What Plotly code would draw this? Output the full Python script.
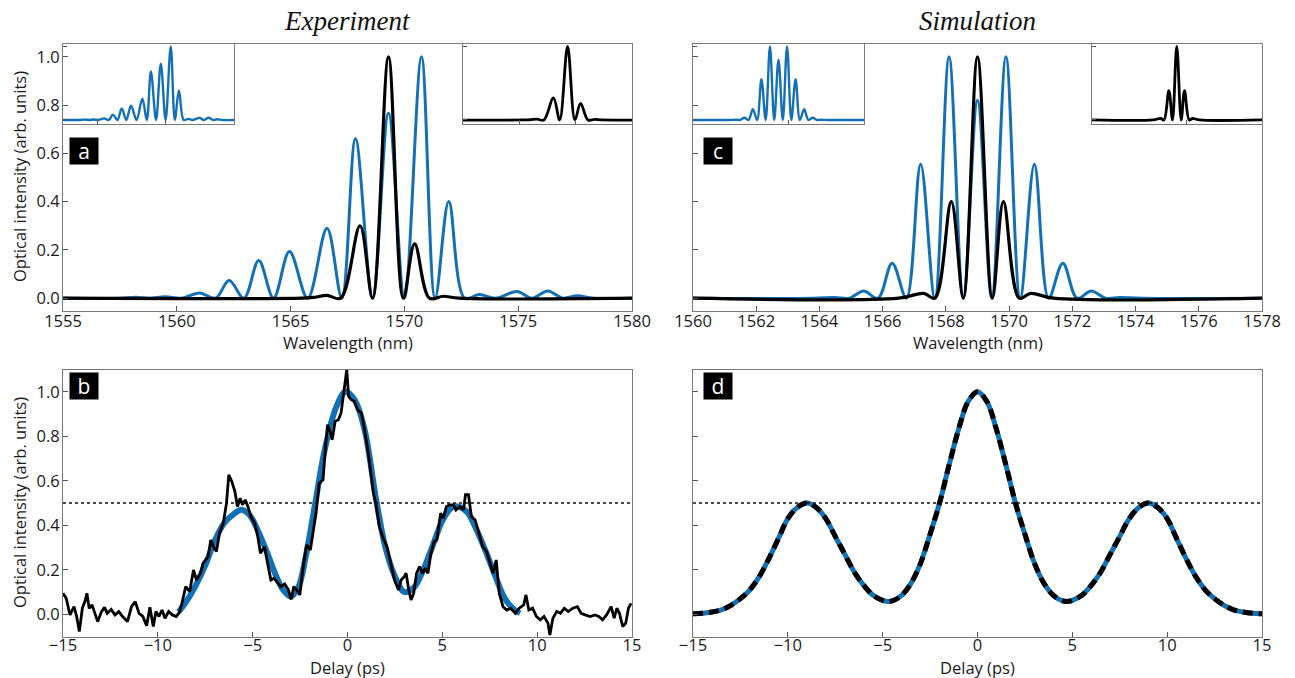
import plotly.graph_objects as go

# ---------------- data ----------------
# Panel a (experiment spectra)
a_blue_wl = [1555.0, 1557.5, 1558.2, 1558.8, 1559.5, 1560.2, 1561.0, 1561.7, 1562.3, 1562.95,
             1563.6, 1564.25, 1564.95, 1565.75, 1566.6, 1567.25, 1567.85, 1568.6, 1569.3, 1570.0,
             1570.75, 1571.35, 1571.95, 1572.65, 1573.3, 1574.0, 1574.95, 1575.6, 1576.3, 1576.95,
             1577.6, 1578.3, 1580.0]
a_blue_int = [0.0, 0.0, 0.004, 0.0, 0.006, 0.0, 0.022, 0.0, 0.073, 0.0,
              0.156, 0.0, 0.193, 0.0, 0.29, 0.0, 0.66, 0.0, 0.766, 0.0,
              1.0, 0.0, 0.40, 0.0, 0.015, 0.0, 0.028, 0.0, 0.03, 0.0,
              0.01, 0.0, 0.0]
a_black_wl = [1555.0, 1565.5, 1566.0, 1566.6, 1567.2, 1568.05, 1568.6, 1569.3, 1569.95, 1570.45,
              1571.1, 1571.7, 1572.4, 1580.0]
a_black_int = [0.0, 0.0, 0.003, 0.012, 0.0, 0.30, 0.0, 1.0, 0.0, 0.225,
               0.0, 0.008, 0.0, 0.0]

# Panel c (simulated spectra)
c_blue_wl = [1560.0, 1563.8, 1564.5, 1564.95, 1565.4, 1565.85, 1566.3, 1566.75, 1567.2, 1567.65,
             1568.1, 1568.55, 1569.0, 1569.45, 1569.9, 1570.35, 1570.8, 1571.25, 1571.7, 1572.15,
             1572.6, 1573.05, 1573.5, 1574.2, 1578.0]
c_blue_int = [0.0, 0.0, 0.003, 0.0, 0.03, 0.0, 0.145, 0.0, 0.555, 0.0,
              1.0, 0.0, 0.82, 0.0, 1.0, 0.0, 0.555, 0.0, 0.145, 0.0,
              0.03, 0.0, 0.003, 0.0, 0.0]
c_black_wl = [1560.0, 1566.5, 1567.3, 1567.65, 1568.17, 1568.55, 1569.0, 1569.47, 1569.82, 1570.32,
              1570.68, 1571.4, 1578.0]
c_black_int = [0.0, 0.0, 0.02, 0.0, 0.40, 0.0, 1.0, 0.0, 0.40, 0.0,
               0.02, 0.0, 0.0]

# Panel b (experiment autocorrelation-like trace, measured + fit)
b_meas_delay = [-15.0, -14.83, -14.63, -14.42, -14.28, -14.14, -13.98, -13.82, -13.74, -13.62,
                -13.47, -13.33, -13.17, -12.97, -12.81, -12.67, -12.46, -12.26, -12.06, -11.86,
                -11.60, -11.39, -11.19, -10.99, -10.79, -10.59, -10.42, -10.24, -10.10, -9.94,
                -9.78, -9.62, -9.43, -9.23, -9.03, -8.87,
                -8.73, -8.53, -8.32, -8.12, -7.96, -7.76, -7.62, -7.35, -7.21, -7.07,
                -6.91, -6.75, -6.55, -6.38, -6.26, -6.10, -5.94, -5.80, -5.66, -5.54,
                -5.39, -5.25, -5.09, -4.89, -4.73, -4.59, -4.38, -4.18, -4.04, -3.88,
                -3.72, -3.52, -3.31, -3.11, -2.97, -2.83, -2.67, -2.51, -2.36, -2.16,
                -1.96, -1.82, -1.66, -1.49, -1.29, -1.15, -1.05, -0.89, -0.81, -0.65,
                -0.48, -0.34, -0.14, -0.04, 0.06, 0.20, 0.36, 0.53, 0.73, 0.87,
                1.07, 1.21, 1.37, 1.49, 1.68, 1.88, 2.08, 2.28, 2.48, 2.69,
                2.83, 2.99, 3.09, 3.23, 3.35, 3.49, 3.64, 3.80, 3.96, 4.10,
                4.24, 4.40, 4.57, 4.71, 4.91, 5.05, 5.21, 5.37, 5.58, 5.72,
                5.92, 6.12, 6.22, 6.38, 6.53, 6.73, 6.93, 7.13, 7.33, 7.54,
                7.68, 7.84, 8.00, 8.20, 8.40, 8.61, 8.85, 9.05, 9.29, 9.41,
                9.56, 9.76, 9.96, 10.16, 10.36, 10.57, 10.67, 10.83, 11.03, 11.23,
                11.43, 11.64, 11.88, 12.12, 12.32, 12.53, 12.79, 13.05, 13.25, 13.45,
                13.66, 13.90, 14.06, 14.20, 14.34, 14.51, 14.67, 14.81, 14.95]
b_meas_int = [0.094, 0.072, -0.003, 0.034, -0.010, -0.078, 0.027, 0.064, 0.094, 0.027,
              0.042, 0.004, -0.033, 0.012, 0.031, 0.004, 0.022, -0.003, 0.012, -0.010,
              -0.033, 0.034, 0.057, 0.004, -0.010, -0.052, 0.031, -0.055, 0.012, -0.010,
              0.019, -0.018, 0.012, -0.003, -0.010, 0.007,
              0.049, 0.124, 0.102, 0.199, 0.154, 0.184, 0.229, 0.259, 0.334, 0.304,
              0.282, 0.364, 0.409, 0.499, 0.627, 0.597, 0.552, 0.484, 0.522, 0.492,
              0.514, 0.484, 0.439, 0.409, 0.349, 0.274, 0.304, 0.214, 0.154, 0.162,
              0.147, 0.124, 0.136, 0.109, 0.067, 0.124, 0.109, 0.087, 0.199, 0.312,
              0.289, 0.364, 0.454, 0.589, 0.604, 0.762, 0.852, 0.814, 0.784, 0.867,
              0.874, 0.904, 1.039, 1.099, 0.979, 0.964, 0.957, 0.919, 0.904, 0.844,
              0.739, 0.649, 0.544, 0.499, 0.394, 0.342, 0.304, 0.229, 0.154, 0.109,
              0.154, 0.169, 0.184, 0.109, 0.064, 0.094, 0.184, 0.214, 0.184, 0.207,
              0.184, 0.274, 0.327, 0.334, 0.454, 0.432, 0.484, 0.492, 0.492, 0.469,
              0.484, 0.469, 0.537, 0.537, 0.439, 0.424, 0.364, 0.304, 0.282, 0.229,
              0.184, 0.244, 0.094, 0.034, 0.019, 0.027, 0.004, 0.027, 0.042, 0.087,
              0.019, 0.027, -0.010, -0.025, -0.010, -0.040, -0.093, -0.018, 0.012, 0.004,
              0.027, 0.012, 0.027, 0.034, 0.004, -0.003, -0.010, -0.003, -0.010, -0.025,
              -0.003, 0.034, -0.018, 0.027, 0.004, -0.055, -0.040, 0.027, 0.049]
b_fit_delay = [-8.9, -8.4, -8.0, -7.5, -7.0, -6.5, -6.0, -5.6, -5.2, -4.8,
               -4.3, -3.8, -3.4, -3.0, -2.6, -2.2, -1.7, -1.2, -0.6, -0.1,
               0.4, 0.9, 1.5, 2.0, 2.5, 3.0, 3.5, 4.0, 4.5, 5.0,
               5.5, 5.8, 6.3, 6.8, 7.3, 7.8, 8.3, 8.8, 9.1]
b_fit_int = [0.01, 0.07, 0.13, 0.22, 0.33, 0.41, 0.45, 0.47, 0.45, 0.39,
             0.29, 0.18, 0.11, 0.08, 0.12, 0.26, 0.50, 0.74, 0.93, 1.0,
             0.96, 0.83, 0.52, 0.30, 0.17, 0.10, 0.12, 0.20, 0.31, 0.42,
             0.48, 0.485, 0.46, 0.38, 0.28, 0.17, 0.07, 0.02, 0.005]

# Panel d (simulated trace)
d_delay = [-15.0, -14.5, -14.0, -13.5, -13.0, -12.5, -12.0, -11.5, -11.0, -10.5,
           -10.0, -9.5, -9.0, -8.5, -8.0, -7.5, -7.0, -6.5, -6.0, -5.5,
           -5.0, -4.8, -4.5, -4.0, -3.5, -3.0, -2.5, -2.0, -1.5, -1.0,
           -0.5, 0.0, 0.5, 1.0, 1.5, 2.0, 2.5, 3.0, 3.5, 4.0,
           4.5, 4.8, 5.0, 5.5, 6.0, 6.5, 7.0, 7.5, 8.0, 8.5,
           9.0, 9.5, 10.0, 10.5, 11.0, 11.5, 12.0, 12.5, 13.0, 13.5,
           14.0, 14.5, 15.0]
d_int = [0.002, 0.004, 0.01, 0.02, 0.04, 0.07, 0.11, 0.17, 0.25, 0.34,
         0.43, 0.48, 0.50, 0.48, 0.43, 0.35, 0.27, 0.19, 0.13, 0.085,
         0.062, 0.058, 0.06, 0.085, 0.14, 0.23, 0.36, 0.50, 0.67, 0.83,
         0.955, 1.0, 0.955, 0.83, 0.67, 0.50, 0.36, 0.23, 0.14, 0.085,
         0.06, 0.058, 0.062, 0.085, 0.13, 0.19, 0.27, 0.35, 0.43, 0.48,
         0.50, 0.48, 0.43, 0.34, 0.25, 0.17, 0.11, 0.07, 0.04, 0.02,
         0.01, 0.004, 0.002]

half_level = 0.5
spec_ticks_a = [1555, 1560, 1565, 1570, 1575, 1580]
spec_ticks_c = [1560, 1562, 1564, 1566, 1568, 1570, 1572, 1574, 1576, 1578]
delay_ticks = [-15, -10, -5, 0, 5, 10, 15]
int_ticks = [0.0, 0.2, 0.4, 0.6, 0.8, 1.0]

# ---------------- styling / layout ----------------
W, H = 1295, 678
BLUE = "#1470b4"
BLACK = "#000000"
FRAME = "#7a7a7a"
FONT = "Open Sans"


def dx(a, b):
    return [a / W, b / W]


def dy(top, bottom):
    return [1 - bottom / H, 1 - top / H]


fig = go.Figure()


def add(x, y, xa, ya, color, width, shape="spline", dash=None):
    line = dict(color=color, width=width, shape=shape)
    if shape == "spline":
        line["smoothing"] = 1.0
    if dash:
        line["dash"] = dash
    fig.add_trace(go.Scatter(x=x, y=y, xaxis=xa, yaxis=ya, mode="lines",
                             line=line, hoverinfo="skip", showlegend=False))


# main panels
add(a_blue_wl, a_blue_int, "x", "y", BLUE, 3)
add(a_black_wl, a_black_int, "x", "y", BLACK, 3.2)
add(c_blue_wl, c_blue_int, "x2", "y2", BLUE, 3)
add(c_black_wl, c_black_int, "x2", "y2", BLACK, 3.2)
add(b_fit_delay, b_fit_int, "x3", "y3", BLUE, 6)
add(b_meas_delay, b_meas_int, "x3", "y3", BLACK, 2.8, shape="linear")
add(d_delay, d_int, "x4", "y4", BLUE, 5)
add(d_delay, d_int, "x4", "y4", BLACK, 5, dash="10px,6px")
# insets
add(a_blue_wl, a_blue_int, "x5", "y5", BLUE, 2.4)
add(a_black_wl, a_black_int, "x6", "y6", BLACK, 2.8)
add(c_blue_wl, c_blue_int, "x7", "y7", BLUE, 2.4)
add(c_black_wl, c_black_int, "x8", "y8", BLACK, 2.8)

tickfont = dict(family=FONT, size=16.5, color="#1a1a1a")
titlefont = dict(family=FONT, size=16.5, color="#1a1a1a")

base_ax = dict(showgrid=False, zeroline=False, showline=True, mirror=True,
               linecolor=FRAME, linewidth=1, ticks="inside", ticklen=5,
               tickcolor="#555", tickwidth=1, tickfont=tickfont, automargin=False)
x_top = dict(base_ax, ticklabelstandoff=-4)
x_bot = dict(base_ax, ticklabelstandoff=-6)
y_ax = dict(base_ax, ticklabelstandoff=-1)

Y_TOP = dy(43.5, 310.5)
Y_BOT = dy(369.5, 636.5)
X_L = dx(63, 632)
X_R = dx(693, 1262)
Y_INS = dy(43.5, 124)

layout = dict(
    width=W, height=H, autosize=False,
    margin=dict(l=0, r=0, t=0, b=0, autoexpand=False),
    paper_bgcolor="white", plot_bgcolor="rgba(0,0,0,0)",
    showlegend=False,
    xaxis=dict(x_top, domain=X_L, anchor="y", range=[1555, 1580], tickvals=spec_ticks_a),
    yaxis=dict(y_ax, domain=Y_TOP, anchor="x", range=[-0.051, 1.055], tickvals=int_ticks,
               tickformat=".1f"),
    xaxis2=dict(x_top, domain=X_R, anchor="y2", range=[1560, 1578], tickvals=spec_ticks_c),
    yaxis2=dict(y_ax, domain=Y_TOP, anchor="x2", range=[-0.051, 1.055], tickvals=int_ticks,
                showticklabels=False),
    xaxis3=dict(x_bot, domain=X_L, anchor="y3", range=[-15, 15], tickvals=delay_ticks),
    yaxis3=dict(y_ax, domain=Y_BOT, anchor="x3", range=[-0.1, 1.1], tickvals=int_ticks,
                tickformat=".1f"),
    xaxis4=dict(x_bot, domain=X_R, anchor="y4", range=[-15, 15], tickvals=delay_ticks),
    yaxis4=dict(y_ax, domain=Y_BOT, anchor="x4", range=[-0.1, 1.1], tickvals=int_ticks,
                showticklabels=False),
)

inset_ax = dict(showgrid=False, zeroline=False, showline=True, mirror=True,
                linecolor=FRAME, linewidth=1, ticks="inside", ticklen=4,
                tickcolor="#555", showticklabels=False, automargin=False)
insets = [
    (5, dx(63, 234), [1555, 1580], [1560, 1570]),
    (6, dx(462.5, 632), [1560, 1575], [1565, 1570]),
    (7, dx(693, 864), [1560, 1578], [1570]),
    (8, dx(1091.5, 1262), [1560, 1578], [1570]),
]
for n, xd, xr, tv in insets:
    layout[f"xaxis{n}"] = dict(inset_ax, domain=xd, anchor=f"y{n}", range=xr, tickvals=tv)
    layout[f"yaxis{n}"] = dict(inset_ax, domain=Y_INS, anchor=f"x{n}", range=[-0.055, 1.04],
                               tickvals=[0.0, 1.0])

fig.update_layout(**layout)

# white background behind insets
for n, xd, xr, tv in insets:
    fig.add_shape(type="rect", xref="paper", yref="paper", x0=xd[0], x1=xd[1],
                  y0=Y_INS[0], y1=Y_INS[1], fillcolor="white", line=dict(width=0),
                  layer="below")

# dotted half-maximum lines
for xa, ya in [("x3", "y3"), ("x4", "y4")]:
    fig.add_shape(type="line", xref=f"{xa} domain", yref=ya, x0=0, x1=1,
                  y0=half_level, y1=half_level,
                  line=dict(color="#111", width=1.3, dash="dot"))

# axis titles (as annotations for exact placement)
for text, xc, yc in [("Wavelength (nm)", (63 + 632) / 2, 342), ("Wavelength (nm)", (693 + 1262) / 2, 342),
                     ("Delay (ps)", (63 + 632) / 2, 667), ("Delay (ps)", (693 + 1262) / 2, 667)]:
    fig.add_annotation(text=text, xref="paper", yref="paper", x=xc / W, y=1 - yc / H,
                       xanchor="center", yanchor="middle", showarrow=False, font=titlefont)
for yc in [(43.5 + 310.5) / 2, (369.5 + 636.5) / 2]:
    fig.add_annotation(text="Optical intensity (arb. units)", xref="paper", yref="paper",
                       x=19 / W, y=1 - yc / H, xanchor="center", yanchor="middle",
                       textangle=-90, showarrow=False, font=titlefont)

# column titles
for text, xc in [("Experiment", (63 + 632) / 2), ("Simulation", (693 + 1262) / 2)]:
    fig.add_annotation(text=f"<i>{text}</i>", xref="paper", yref="paper",
                       x=xc / W, y=1 - 21 / H, xanchor="center", yanchor="middle",
                       showarrow=False,
                       font=dict(family="Liberation Serif", size=27, color="#111"))

# panel letters
for letter, xc, yc in [("a", 84, 151.5), ("b", 84, 386), ("c", 717.5, 151.5), ("d", 717.5, 386)]:
    fig.add_annotation(text=letter, xref="paper", yref="paper", x=xc / W, y=1 - yc / H,
                       xanchor="center", yanchor="middle",
                       showarrow=False, width=28, height=26, bgcolor="black",
                       font=dict(family=FONT, size=21, color="white"), borderpad=0)

fig.write_html("out.html")
